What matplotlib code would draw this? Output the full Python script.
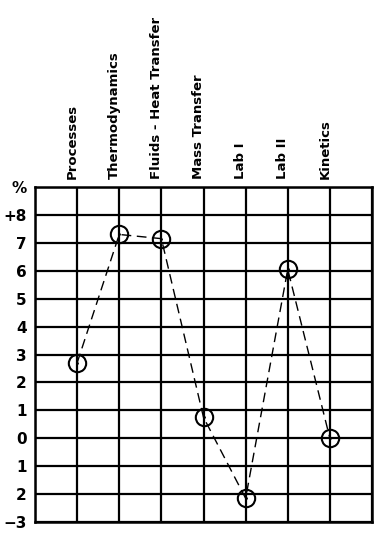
import matplotlib
matplotlib.use("Agg")
import matplotlib.pyplot as plt

categories = ["Processes", "Thermodynamics", "Fluids - Heat Transfer", "Mass Transfer",
              "Lab I", "Lab II", "Kinetics"]
values = [2.7, 7.3, 7.15, 0.75, -2.15, 6.05, 0.0]
ytick_vals = [9, 8, 7, 6, 5, 4, 3, 2, 1, 0, -1, -2, -3]
ytick_labels = ["%", "+8", "7", "6", "5", "4", "3", "2", "1", "0", "1", "2", "\u22123"]

fig = plt.figure(figsize=(3.86, 5.38), dpi=100)
ax = fig.add_axes([35/386, 1-522/538, (372-35)/386, (522-187)/538])

x = list(range(1, len(categories)+1))
ax.plot(x, values, color="black", lw=1.0, ls=(0, (7, 4)), marker="o", ms=12.5,
        mfc="none", mec="black", mew=1.5, zorder=3)
ax.plot(x, values, ls="none", marker=".", ms=2, color="black", zorder=4)

ax.set_xlim(0, 8)
ax.set_ylim(-3, 9)
ax.set_xticks(range(0, 9))
ax.set_yticks(ytick_vals)
ax.set_yticklabels(ytick_labels, fontsize=11, fontweight="bold")
ax.tick_params(axis="x", length=0, labelbottom=False)
ax.tick_params(axis="y", length=0, pad=6)
ax.grid(True, color="black", lw=1.6)
for s in ax.spines.values():
    s.set_linewidth(1.8)
    s.set_color("black")

for xi, name in zip(x, categories):
    ax.text(xi - 0.12, 9.3, name, rotation=90, ha="center", va="bottom",
            fontsize=9.5, fontweight="bold", family="DejaVu Sans")

fig.savefig("out.png", dpi=100)
